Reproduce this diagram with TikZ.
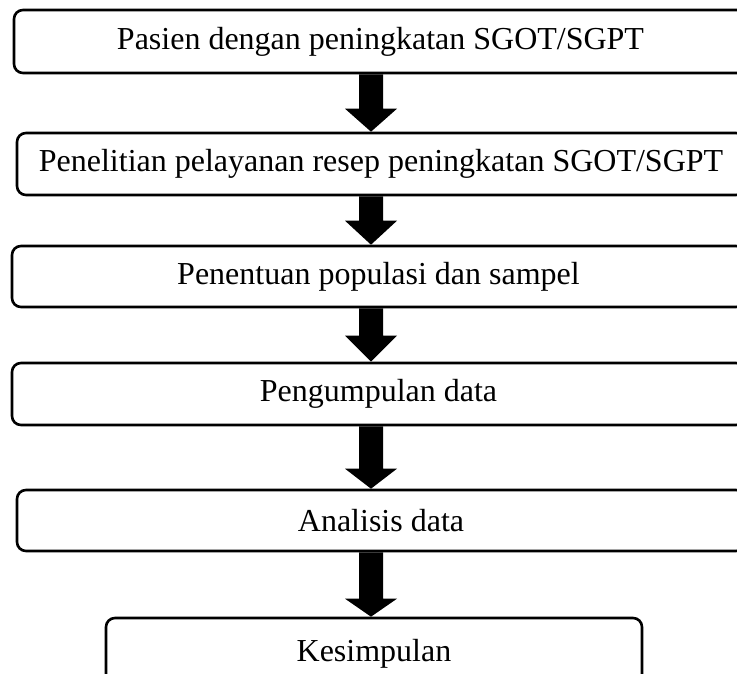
\documentclass[tikz,border=0pt]{standalone}
\usepackage{fontspec}
\setmainfont{Liberation Serif}
\usetikzlibrary{calc}
\tikzset{
  stagebox/.style={draw=black, line width=2.6pt, rounded corners=9pt, fill=white,
    inner sep=0pt, font=\fontsize{32}{36}\selectfont, text=black},
}
\newcommand{\blockarrow}[3]{%
  \fill[black] let \p1=(#1.south), \p2=(#2.north) in
    (359pt,\y1) -- (383pt,\y1) -- (383pt,{\y2+#3pt}) -- (397pt,{\y2+#3pt})
    -- (371pt,\y2) -- (345pt,{\y2+#3pt}) -- (359pt,{\y2+#3pt}) -- cycle;}
\begin{document}
\begin{tikzpicture}[x=1pt,y=-1pt]
\useasboundingbox (0,0) rectangle (737,674);
\clip (0,0) rectangle (737,674);
\node[stagebox, minimum width=733pt, minimum height=63pt] (b1) at (380.5,41.5) {Pasien dengan peningkatan SGOT/SGPT};
\node[stagebox, minimum width=728pt, minimum height=62pt] (b2) at (381,164) {Penelitian pelayanan resep peningkatan SGOT/SGPT};
\node[stagebox, minimum width=733pt, minimum height=61pt] (b3) at (378.5,276.5) {Penentuan populasi dan sampel};
\node[stagebox, minimum width=733pt, minimum height=62pt] (b4) at (378.5,394) {Pengumpulan data};
\node[stagebox, minimum width=728pt, minimum height=61pt] (b5) at (381,520.5) {Analisis data};
\node[stagebox, minimum width=536pt, minimum height=72pt] (b6) at (374,654) {Kesimpulan};
\blockarrow{b1}{b2}{23}
\blockarrow{b2}{b3}{24}
\blockarrow{b3}{b4}{26}
\blockarrow{b4}{b5}{20}
\blockarrow{b5}{b6}{18}
\end{tikzpicture}
\end{document}
